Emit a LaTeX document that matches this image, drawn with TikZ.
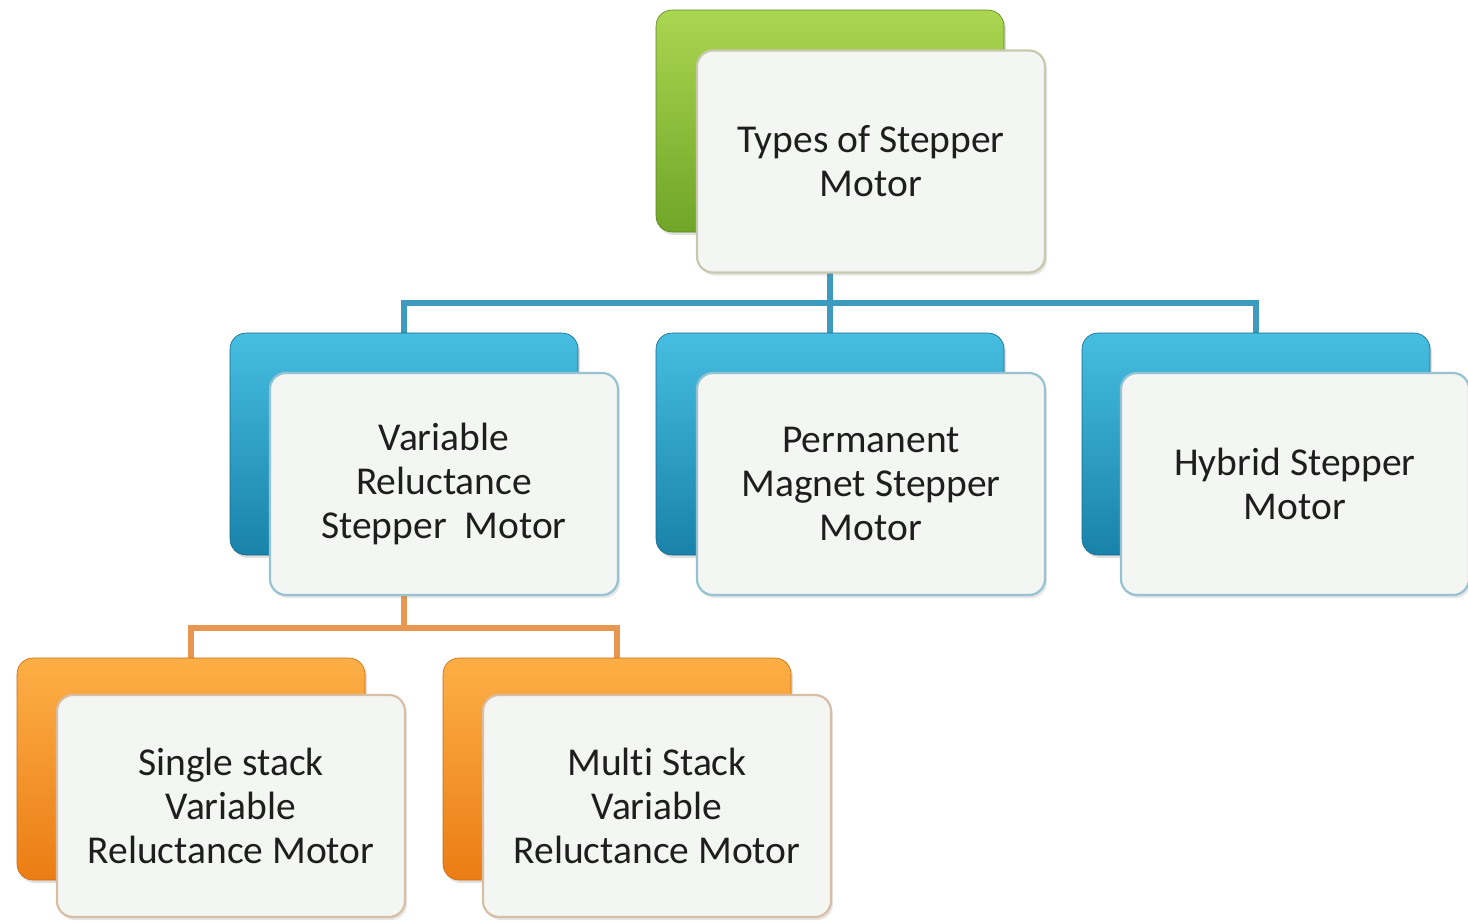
\documentclass[tikz,border=0pt]{standalone}
\usepackage{fontspec}
\setmainfont{Carlito}[Ligatures=NoCommon]
\usetikzlibrary{backgrounds,shadows}
\definecolor{greenA}{RGB}{170,214,80}
\definecolor{greenB}{RGB}{112,165,40}
\definecolor{blueA}{RGB}{70,190,225}
\definecolor{blueB}{RGB}{25,130,170}
\definecolor{orangeA}{RGB}{252,175,70}
\definecolor{orangeB}{RGB}{235,125,20}
\definecolor{frontfill}{RGB}{244,246,243}
\definecolor{greenedge}{RGB}{200,200,175}
\definecolor{blueedge}{RGB}{150,195,210}
\definecolor{orangeedge}{RGB}{215,190,165}
\definecolor{bluelink}{RGB}{60,155,190}
\definecolor{orangelink}{RGB}{232,150,80}
\definecolor{txt}{RGB}{30,30,30}
\tikzset{
  backbox/.style={rounded corners=16pt, inner sep=0pt, outer sep=0pt,
    minimum width=348pt, minimum height=222pt,
    drop shadow={opacity=0.25, shadow xshift=2pt, shadow yshift=-3pt}},
  greenbox/.style={backbox, top color=greenA, bottom color=greenB, draw=greenB!80!black, line width=0.6pt},
  bluebox/.style={backbox, top color=blueA, bottom color=blueB, draw=blueB!80!black, line width=0.6pt},
  orangebox/.style={backbox, top color=orangeA, bottom color=orangeB, draw=orangeB!85!black, line width=0.6pt},
  frontbox/.style={rounded corners=16pt, inner sep=0pt, outer sep=0pt,
    minimum width=348pt, minimum height=222pt, fill=frontfill, line width=2.2pt,
    align=center, text=txt, font=\fontsize{39.5}{44}\selectfont,
    drop shadow={opacity=0.2, shadow xshift=2pt, shadow yshift=-3pt}},
  bline/.style={draw=bluelink, line width=5.5pt},
  oline/.style={draw=orangelink, line width=5.5pt},
}
\begin{document}
\begin{tikzpicture}[x=1pt,y=-1pt]
\useasboundingbox (0,0) rectangle (1468,922);
% top
\node[greenbox] (tb) at (830,121) {};
\node[frontbox, draw=greenedge] (tf) at (871,161.5) {Types of Stepper\\Motor};
% middle row
\node[bluebox] (m1b) at (404,444) {};
\node[frontbox, draw=blueedge] (m1f) at (444,484) {Variable\\Reluctance\\Stepper\ \ Motor};
\node[bluebox] (m2b) at (830,444) {};
\node[frontbox, draw=blueedge] (m2f) at (871,484) {Permanent\\Magnet Stepper\\Motor};
\node[bluebox] (m3b) at (1256,444) {};
\node[frontbox, draw=blueedge] (m3f) at (1295,484) {Hybrid Stepper\\Motor};
% bottom row
\node[orangebox] (b1b) at (191,769) {};
\node[frontbox, draw=orangeedge] (b1f) at (231,806) {Single stack\\Variable\\Reluctance Motor};
\node[orangebox] (b2b) at (617,769) {};
\node[frontbox, draw=orangeedge] (b2f) at (657,806) {Multi Stack\\Variable\\Reluctance Motor};
% connectors
\coordinate (busb) at (830,303);
\coordinate (buso) at (404,628);
\begin{scope}[on background layer]
\draw[bline] (tb.south) -- (busb);
\draw[bline] (m2b.north) -- (busb);
\draw[bline] (m1b.north) |- (busb) -| (m3b.north);
\draw[oline] (m1b.south) -- (buso);
\draw[oline] (b1b.north) |- (buso) -| (b2b.north);
\end{scope}
\end{tikzpicture}
\end{document}
